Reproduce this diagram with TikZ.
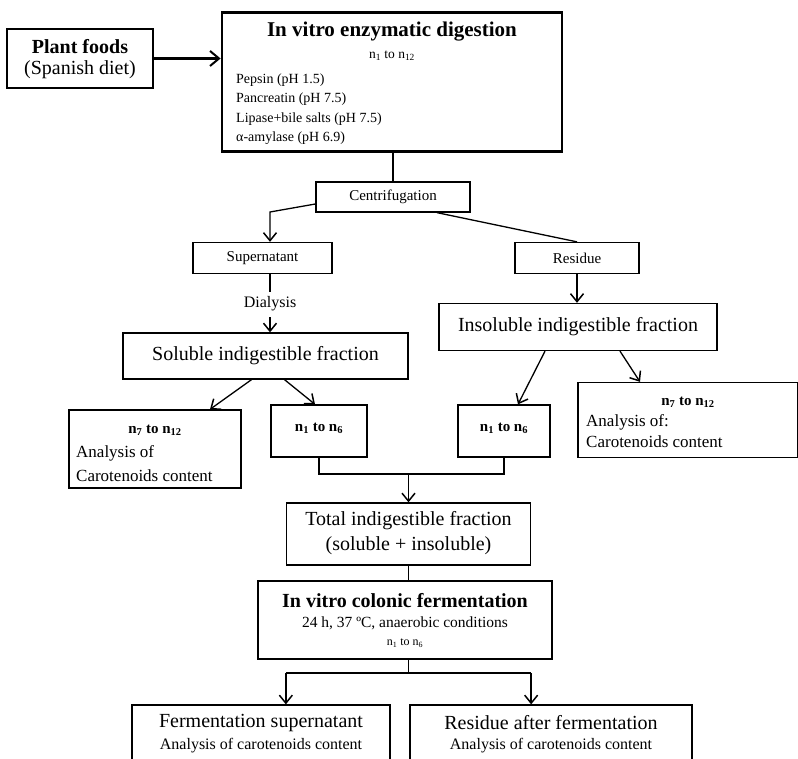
\documentclass[tikz,border=0pt]{standalone}
\usepackage{fontspec}
\setmainfont{Liberation Serif}
\usetikzlibrary{arrows.meta}
\newcommand\fsz[1]{\fontsize{#1}{#1}\selectfont}
\begin{document}
\begin{tikzpicture}[x=1pt,y=-1pt,
  box/.style={draw, line width=1.3pt, inner sep=0pt},
  heavybox/.style={draw, line width=2.8pt, inner sep=0pt},
  ln/.style={line width=1.3pt},
  arr/.style={line width=1.3pt, -{Straight Barb[length=8pt,width=13pt,line width=1.5pt]}},
  bigarr/.style={line width=2.2pt, -{Straight Barb[length=9pt,width=15pt,line width=2pt]}},
  txt/.style={inner sep=0pt, anchor=center},
  ltxt/.style={inner sep=0pt, anchor=west}]
\clip (0,0) rectangle (798,759);
% boxes
\node[box, minimum width=146, minimum height=59] (plant) at (80,58.5) {};
\node[heavybox, minimum width=340, minimum height=139] (digest) at (392,82) {};
\node[box, minimum width=154, minimum height=30] (centrif) at (393,197) {};
\node[box, minimum width=139, minimum height=31] (supern) at (262.5,258) {};
\node[box, minimum width=124, minimum height=31] (residue) at (577,258) {};
\node[box, minimum width=285, minimum height=46] (soluble) at (265.5,356) {};
\node[box, minimum width=278, minimum height=47] (insol) at (578,327) {};
\node[box, minimum width=172, minimum height=78] (n7l) at (155,449) {};
\node[box, minimum width=96, minimum height=52] (n16l) at (319,431) {};
\node[box, minimum width=92, minimum height=52] (n16r) at (504,431) {};
\node[box, minimum width=220, minimum height=75] (n7r) at (688,420) {};
\node[box, minimum width=244, minimum height=62] (total) at (408.5,534) {};
\node[heavybox, minimum width=294, minimum height=78] (colon) at (405,620) {};
\node[box, minimum width=258, minimum height=90] (botl) at (261,750) {};
\node[box, minimum width=282, minimum height=90] (botr) at (551,750) {};
% texts
\node[txt, font=\fsz{20}\bfseries] (tplant1) at (80,47) {Plant foods};
\node[txt, font=\fsz{20}] (tplant2) at (80,70) {(Spanish diet)};
\node[txt, font=\fsz{21}\bfseries] (tdig) at (392,32) {In vitro enzymatic digestion};
\node[txt, font=\fsz{13.5}] (tdign) at (392,56) {n\textsubscript{1} to n\textsubscript{12}};
\node[ltxt, font=\fsz{14}] (tenz1) at (236,80) {Pepsin (pH 1.5)};
\node[ltxt, font=\fsz{14}] (tenz2) at (236,99.5) {Pancreatin (pH 7.5)};
\node[ltxt, font=\fsz{14}] (tenz3) at (236,119) {Lipase+bile salts (pH 7.5)};
\node[ltxt, font=\fsz{14}] (tenz4) at (236,138) {α-amylase (pH 6.9)};
\node[txt, font=\fsz{15}] (tcen) at (centrif) {Centrifugation};
\node[txt, font=\fsz{15}] (tsup) at (supern) {Supernatant};
\node[txt, font=\fsz{15}] (tres) at (residue) {Residue};
\node[txt, font=\fsz{16}] (dial) at (270,304) {Dialysis};
\node[txt, font=\fsz{20}] (tsol) at (soluble) {Soluble indigestible fraction};
\node[txt, font=\fsz{20}] (tins) at (insol) {Insoluble indigestible fraction};
\node[txt, font=\fsz{15}\bfseries] (tn7l) at (155,430) {n\textsubscript{7} to n\textsubscript{12}};
\node[ltxt, font=\fsz{17}] (tn7l2) at (76,453) {Analysis of};
\node[ltxt, font=\fsz{17}] (tn7l3) at (76,476) {Carotenoids content};
\node[txt, font=\fsz{15}\bfseries] (tn16l) at (319,428) {n\textsubscript{1} to n\textsubscript{6}};
\node[txt, font=\fsz{15}\bfseries] (tn16r) at (504,428) {n\textsubscript{1} to n\textsubscript{6}};
\node[txt, font=\fsz{15}\bfseries] (tn7r) at (688,402) {n\textsubscript{7} to n\textsubscript{12}};
\node[ltxt, font=\fsz{17}] (tn7r2) at (586,422) {Analysis of:};
\node[ltxt, font=\fsz{17}] (tn7r3) at (586,442) {Carotenoids content};
\node[txt, font=\fsz{20}] (ttot1) at (408.5,521) {Total indigestible fraction};
\node[txt, font=\fsz{20}] (ttot2) at (408.5,546) {(soluble + insoluble)};
\node[txt, font=\fsz{20}\bfseries] (tcol1) at (405,601) {In vitro colonic fermentation};
\node[txt, font=\fsz{15.5}] (tcol2) at (405,623) {24 h, 37 ºC, anaerobic conditions};
\node[txt, font=\fsz{12}] (tcol3) at (405,643) {n\textsubscript{1} to n\textsubscript{6}};
\node[txt, font=\fsz{20}] (tbl1) at (261,723) {Fermentation supernatant};
\node[txt, font=\fsz{16}] (tbl2) at (261,746) {Analysis of carotenoids content};
\node[txt, font=\fsz{20}] (tbr1) at (551,723) {Residue after fermentation};
\node[txt, font=\fsz{16}] (tbr2) at (551,746) {Analysis of carotenoids content};
% connectors
\draw[bigarr] (plant.east) -- (digest.west |- plant.east);
\draw[ln] (digest.south -| centrif.north) -- (centrif.north);
\coordinate (c1) at (270,212);
\draw[arr] ([yshift=-7pt]centrif.west) -- (c1) -- (supern.north -| c1);
\draw[ln] ([xshift=44pt]centrif.south) -- (residue.north);
\draw[ln] (supern.south -| dial) -- ([yshift=5pt]dial.north);
\draw[arr] ([yshift=-6pt]dial.south) -- (soluble.north -| dial);
\draw[arr] (residue.south) -- (insol.north -| residue.south);
\draw[arr] ([xshift=-14pt]soluble.south) -- ([xshift=55pt]n7l.north);
\draw[arr] ([xshift=19pt]soluble.south) -- ([xshift=-4pt]n16l.north);
\draw[arr] ([xshift=-33pt]insol.south) -- ([xshift=14pt]n16r.north);
\draw[arr] ([xshift=42pt]insol.south) -- ([xshift=-48pt]n7r.north);
\coordinate (m) at (408.5,474);
\draw[ln] (n16l.south) |- (m) -| (n16r.south);
\draw[arr] (m) -- (total.north);
\draw[ln] (total.south) -- (colon.north -| total.south);
\coordinate (h) at (408.5,673);
\draw[ln] (colon.south -| h) -- (h);
\draw[ln] (h -| total.west) -- (h -| total.east);
\draw[arr] (h -| total.west) -- (botl.north -| total.west);
\draw[arr, line width=1.7pt] (h -| total.east) -- (botr.north -| total.east);
\end{tikzpicture}
\end{document}
